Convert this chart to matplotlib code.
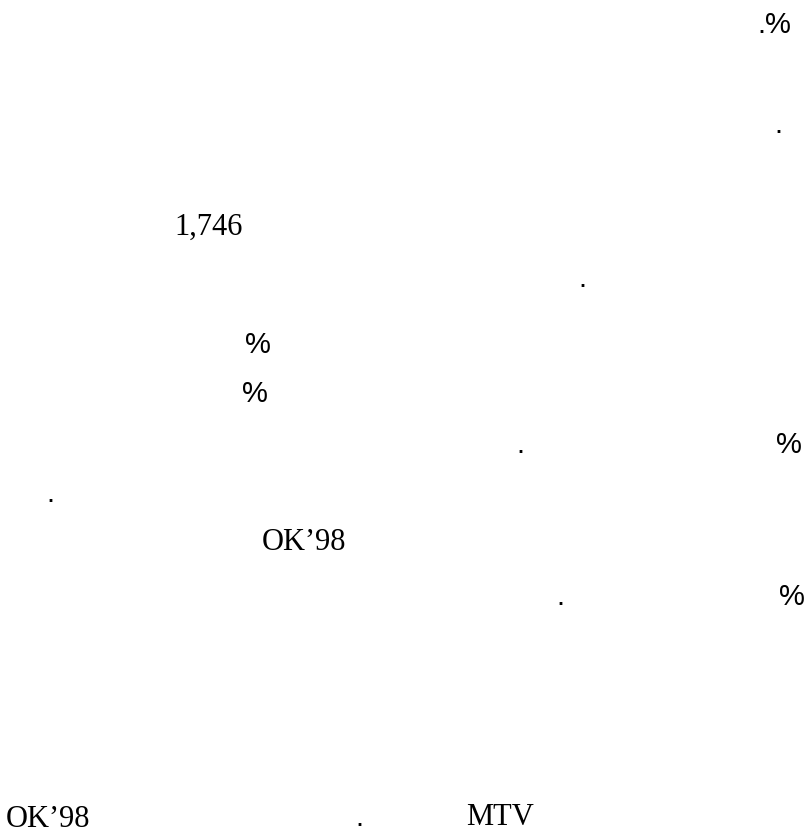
#!/usr/bin/env python3
"""Page fragment: the Latin runs left over from a right-to-left text page."""

import os

os.environ.setdefault("MPLCONFIGDIR", "/tmp/matplotlib")

import matplotlib

matplotlib.use("Agg")
import matplotlib.pyplot as plt

W, H = 809, 833

# text runs that survive on the page
SERIF_RUNS = ["1,746", "OK\u201998", "OK\u201998", "MTV"]
SANS_RUNS = [".%", ".", ".", "%", "%", "%", ".", ".", "%", ".", "."]

# layout: (left x px, baseline y px from top)
SERIF_POS = [(174, 235), (262, 550), (6, 827), (466, 825)]
SANS_POS = [
    (757, 33),
    (774, 133),
    (578, 287),
    (245, 353),
    (242, 402),
    (776, 453),
    (516, 453),
    (46, 502),
    (779, 605),
    (556, 605),
    (355, 826),
]


def place(fig, runs, positions, family, size):
    for txt, (x, y) in zip(runs, positions):
        fig.text(
            x / W,
            1 - y / H,
            txt,
            family=family,
            fontsize=size,
            ha="left",
            va="baseline",
            color="black",
        )


def main() -> None:
    fig = plt.figure(figsize=(W / 100, H / 100), dpi=100)
    fig.patch.set_facecolor("white")
    place(fig, SERIF_RUNS, SERIF_POS, ["Liberation Serif", "DejaVu Serif"], 22)
    place(fig, SANS_RUNS, SANS_POS, ["Liberation Sans", "DejaVu Sans"], 21)
    fig.savefig("out.png", dpi=100, facecolor="white")
    plt.close(fig)


if __name__ == "__main__":
    main()
